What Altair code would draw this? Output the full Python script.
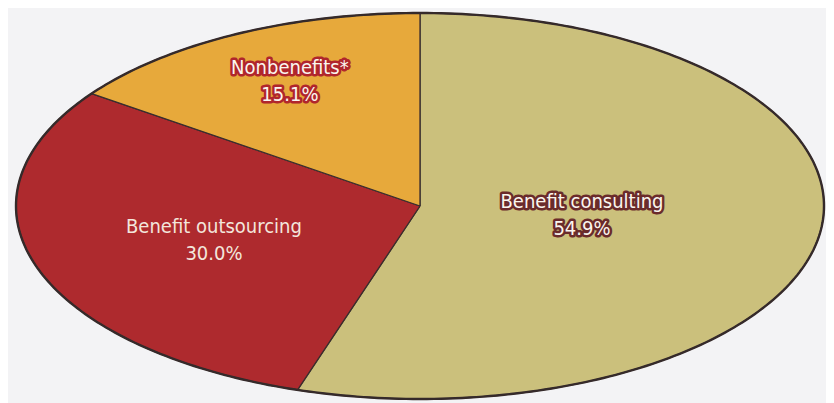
import altair as alt
import pandas as pd

# Slices, clockwise from 12 o'clock
categories = ["Benefit consulting", "Benefit outsourcing", "Nonbenefits*"]
shares = [54.9, 30.0, 15.1]
order_idx = [0, 1, 2]

# Styling
slice_colors = ["#cbc07c", "#ae2a2e", "#e7a93b"]
outline_colors = ["#6a2b2b", "#ae2a2e", "#b0262c"]
text_colors = ["#fbf6ee", "#f3e6dc", "#fbf6ee"]

# Label anchors (in the pie's normalised ellipse coordinates)
label_x = [0.401, -0.510, -0.322]
label_y = [0.012, 0.139, -0.685]

df = pd.DataFrame({
    "category": categories,
    "share": shares,
    "idx": order_idx,
    "lx": label_x,
    "ly": label_y,
})

N = 240
FONT = "Liberation Sans Narrow, DejaVu Sans Condensed, Roboto, sans-serif"

xs = alt.Scale(domain=[-1, 1], range=[8, 816], nice=False, zero=False)
ys = alt.Scale(domain=[-1, 1], range=[5, 391], nice=False, zero=False)
fill_scale = alt.Scale(domain=categories, range=slice_colors)
outline_scale = alt.Scale(domain=categories, range=outline_colors)
text_scale = alt.Scale(domain=categories, range=text_colors)

base = alt.Chart(df)

slices = (
    base.transform_window(cum="sum(share)", sort=[alt.SortField("idx")], frame=[None, 0])
    .transform_joinaggregate(total="sum(share)")
    .transform_calculate(
        a1="2*PI*datum.cum/datum.total",
        a0="2*PI*(datum.cum-datum.share)/datum.total",
        ks=f"sequence(0, {N + 2})",
    )
    .transform_flatten(["ks"], as_=["k"])
    .transform_calculate(
        ang=f"datum.a0 + (datum.a1 - datum.a0) * (datum.k - 1) / {N - 1}",
    )
    .transform_calculate(
        px=f"(datum.k == 0 || datum.k == {N + 1}) ? 0 : sin(datum.ang)",
        py=f"(datum.k == 0 || datum.k == {N + 1}) ? 0 : -cos(datum.ang)",
    )
    .mark_line(stroke="#3a2e2e", strokeWidth=1.3, strokeJoin="round")
    .encode(
        x=alt.X("px:Q", scale=xs, axis=None),
        y=alt.Y("py:Q", scale=ys, axis=None),
        fill=alt.Fill("category:N", scale=fill_scale, legend=None),
        order=alt.Order("k:Q"),
        detail="category:N",
    )
)

outline = (
    alt.Chart(alt.sequence(0, 361, as_="deg"))
    .transform_calculate(ox="sin(datum.deg*PI/180)", oy="-cos(datum.deg*PI/180)")
    .mark_line(stroke="#352a2a", strokeWidth=2.4, fill=None)
    .encode(
        x=alt.X("ox:Q", scale=xs, axis=None),
        y=alt.Y("oy:Q", scale=ys, axis=None),
        order="deg:Q",
    )
)

labels = base.transform_calculate(
    txt=r"datum.category + '\n' + format(datum.share, '.1f') + '%'"
)

label_halo = labels.mark_text(
    font=FONT, fontSize=20, lineBreak="\n", lineHeight=27,
    align="center", baseline="alphabetic", strokeWidth=5, strokeJoin="round",
).encode(
    x=alt.X("lx:Q", scale=xs, axis=None),
    y=alt.Y("ly:Q", scale=ys, axis=None),
    text="txt:N",
    stroke=alt.Stroke("category:N", scale=outline_scale, legend=None),
    fill=alt.Fill("category:N", scale=outline_scale, legend=None),
)

label_text = labels.mark_text(
    font=FONT, fontSize=20, lineBreak="\n", lineHeight=27,
    align="center", baseline="alphabetic",
).encode(
    x=alt.X("lx:Q", scale=xs, axis=None),
    y=alt.Y("ly:Q", scale=ys, axis=None),
    text="txt:N",
    fill=alt.Fill("category:N", scale=text_scale, legend=None),
)

chart = (
    alt.layer(slices, outline, label_halo, label_text)
    .resolve_scale(fill="independent")
    .properties(width=818, height=395, padding=0, autosize=alt.AutoSizeParams(type="none"),
                background="#f3f3f5")
    .configure_view(stroke=None)
)

chart.save("out.html", embed_options={"renderer": "svg", "actions": False})
